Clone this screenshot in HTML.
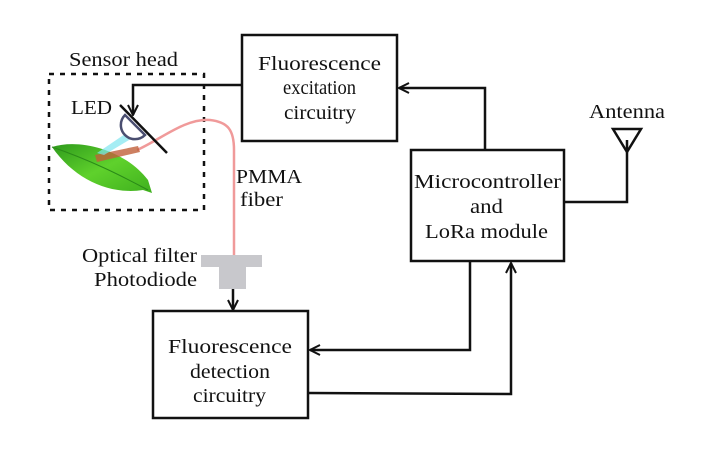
<!DOCTYPE html>
<html><head><meta charset="utf-8"><style>
body{margin:0;background:#fff}
</style></head><body>
<svg width="718" height="458" viewBox="0 0 718 458" xmlns="http://www.w3.org/2000/svg" font-family="'Liberation Serif','Times New Roman','DejaVu Serif',serif" font-size="20" fill="#111">
<defs>
<marker id="a" viewBox="0 0 12 12" refX="11" refY="6" markerWidth="12" markerHeight="12" markerUnits="userSpaceOnUse" orient="auto"><path d="M1,1 L11,6 L1,11" fill="none" stroke="#111" stroke-width="2"/></marker>
<linearGradient id="lf" x1="0" y1="0" x2="1" y2="1"><stop offset="0" stop-color="#2e9a1c"/><stop offset="0.5" stop-color="#5fd12c"/><stop offset="1" stop-color="#3fb01e"/></linearGradient>
</defs>
<g fill="none" stroke="#111" stroke-width="2.5">
<rect x="242" y="35" width="155" height="106"/>
<rect x="411" y="150" width="153" height="111"/>
<rect x="153" y="311" width="155" height="107"/>
</g>
<rect x="49" y="74" width="155" height="136" fill="none" stroke="#111" stroke-width="2.5" stroke-dasharray="5,6"/>
<g fill="none" stroke="#111" stroke-width="2.5">
<polyline points="485,150 485,88 399,88" marker-end="url(#a)"/>
<polyline points="242,85 133,85 133,115" marker-end="url(#a)"/>
<polyline points="470,261 470,350 310,350" marker-end="url(#a)"/>
<polyline points="308,393 511,394 511,263" marker-end="url(#a)"/>
<polyline points="564,202 627,202 627,140"/>
<polygon points="613,129 641,129 627,152"/>
<line x1="233" y1="288" x2="233" y2="310" marker-end="url(#a)"/>
</g>
<path d="M137,150 C160,140 185,118 210,120 C228,122 234,130 234,150 L234,256" fill="none" stroke="#f09a9a" stroke-width="2.5"/>
<rect x="201" y="255" width="61" height="12" fill="#c8c8cc"/>
<rect x="219" y="267" width="27" height="22" fill="#c8c8cc"/>
<path d="M52,147 C80,138 125,150 148,180 L152,193 L143,190 C110,195 75,180 52,147Z" fill="url(#lf)"/>
<path d="M52,147 C90,160 120,175 148,190" stroke="#2a8a18" stroke-width="1" fill="none"/>
<polygon points="95,155 138,146 140,152 97,162" fill="#c0603a" opacity="0.8"/>
<polygon points="128,132 134,137 104,155 97,153" fill="#7fe6ef" opacity="0.7"/>
<path d="M125,115 A14,14 0 0 0 145,135 Z" fill="#fff" stroke="#4a4e70" stroke-width="2.5"/>
<line x1="120" y1="105" x2="167" y2="153" stroke="#111" stroke-width="2.5"/>
<g lengthAdjust="spacingAndGlyphs">
<text x="69" y="66" textLength="109" lengthAdjust="spacingAndGlyphs">Sensor head</text>
<text x="71" y="114" textLength="41" lengthAdjust="spacingAndGlyphs">LED</text>
<text x="258" y="70" textLength="123" lengthAdjust="spacingAndGlyphs">Fluorescence</text>
<text x="283" y="94" textLength="73" lengthAdjust="spacingAndGlyphs">excitation</text>
<text x="284" y="119" textLength="72" lengthAdjust="spacingAndGlyphs">circuitry</text>
<text x="414" y="188" textLength="147" lengthAdjust="spacingAndGlyphs">Microcontroller</text>
<text x="470" y="213" textLength="33" lengthAdjust="spacingAndGlyphs">and</text>
<text x="425" y="238" textLength="123" lengthAdjust="spacingAndGlyphs">LoRa module</text>
<text x="168" y="353" textLength="124" lengthAdjust="spacingAndGlyphs">Fluorescence</text>
<text x="190" y="378" textLength="80" lengthAdjust="spacingAndGlyphs">detection</text>
<text x="193" y="402" textLength="73" lengthAdjust="spacingAndGlyphs">circuitry</text>
<text x="589" y="118" textLength="76" lengthAdjust="spacingAndGlyphs">Antenna</text>
<text x="236" y="183" textLength="66" lengthAdjust="spacingAndGlyphs">PMMA</text>
<text x="240" y="206" textLength="43" lengthAdjust="spacingAndGlyphs">fiber</text>
<text x="82" y="262" textLength="115" lengthAdjust="spacingAndGlyphs">Optical filter</text>
<text x="94" y="286" textLength="103" lengthAdjust="spacingAndGlyphs">Photodiode</text>
</g>
</svg>
</body></html>
